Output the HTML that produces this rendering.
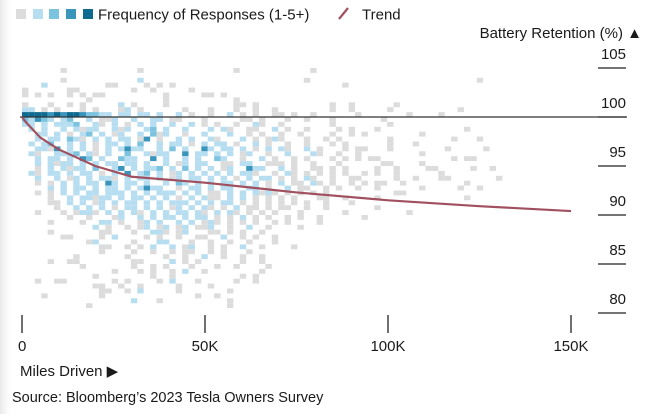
<!DOCTYPE html>
<html><head><meta charset="utf-8"><style>
html,body{margin:0;padding:0;background:#fff;}
body{width:660px;height:414px;overflow:hidden;font-family:"Liberation Sans",sans-serif;}
svg text{font-family:"Liberation Sans",sans-serif;fill:#1a1a1a;}
</style></head><body>
<svg id="chart" width="660" height="414" viewBox="0 0 660 414">
<defs><linearGradient id="edge" x1="0" x2="1"><stop offset="0" stop-color="#e8e8e8"/><stop offset="1" stop-color="#fff" stop-opacity="0"/></linearGradient></defs>
<rect x="0" y="0" width="14" height="414" fill="url(#edge)"/>
<g>
<rect x="16" y="9" width="10" height="10" fill="#dcdcdc"/>
<rect x="33" y="9" width="10" height="10" fill="#b7def0"/>
<rect x="49" y="9" width="10" height="10" fill="#7cc3e0"/>
<rect x="66" y="9" width="10" height="10" fill="#3a95bd"/>
<rect x="83" y="9" width="10" height="10" fill="#0e6a8f"/>
<text x="98" y="19.5" font-size="15">Frequency of Responses (1-5+)</text>
<line x1="339" y1="19" x2="348" y2="8" stroke="#a0505f" stroke-width="2.2"/>
<text x="362" y="19.5" font-size="15">Trend</text>
</g>
<text x="642" y="38" font-size="15" text-anchor="end">Battery Retention (%) ▲</text>
<g id="cells"></g>
<g id="yaxis"></g>
<g id="xaxis"></g>
<line x1="20" y1="117" x2="627" y2="117" stroke="#333" stroke-width="1.3"/>
<path id="trend" fill="none" stroke="#a0505f" stroke-width="2.2"/>
<text x="20" y="376" font-size="15">Miles Driven ▶</text>
<text x="12" y="402" font-size="14.5">Source: Bloomberg’s 2023 Tesla Owners Survey</text>
</svg>
<script>
const binK = 1.75;
const topRetention = 105.0;
const rowStep = 0.5;
const rows = [
"......g...........g..............g...........g",
"......................................................",
"......g...........a.........................g..........................g",
"...a.........gg....g.g.g..........................g",
"g......gg........g..g.....g..........................................",
"g.g.g..g.g.gg.........g.....gg.g......................",
"..........g...........g..........g....................",
"g...g..g.g.....a.g....g..........gg.g...........g..g......g",
"aa.g.g...g.g...ga.g......g...g...g..g..g........g..g.....g..........g",
"ddddcdcddcbbaa.aa.aa.a..a.g..g..a.g.g..gg.g..g......g.......g....g....",
"bacba.ab..a.gga..a..aa.gg...g.....gg.g...g..g...g.......g.......",
"aa.a.aaab..ag.a.g.a.a..a..a.g.g..g..ag..g.......g........g......",
".a.a..a.agaa..aga..ab.a..a...a.ag..gg..a.g..g....g.g...g.............g",
"..aa.a.g.ab.a.ga..a.bga..g..a...a..g.g..g..g....g..g.g........g...",
"..a.aa.bag.a.a.aa.gc.g..a.a..ag...a.g.gag...g..g.g.......g.........g...g",
".a.ab..a.a.g.aa.a.b..a.aa.g.a.aa.g..a.g..g..g...g.g......g...g.......",
"..aagc.a.a.g.a.acaa..a.b.a..ca.aa.a.g.a.ag..a.g...g.gg...g........g.....g",
".ag..aaab.ag.a..b..agaa..c.aa.a.a.ga..g..a...ag..g..g.........g......",
"..a.aa.a.cb.a..baa..c.a..a.a..ba..g..a.g..g.g...g.g.g.gg...........g.gg",
"..a.agaa.a.a.aa.aa.a..a.ga.aa..gg.aa..ggg.g..g...g......gg....g..",
"..g.a.agaa.b..ac.a.aab.a.b.a.a.ga..caa..a.g..gg.g.g....g..g....gg.....g..g",
".ag.aa.a.aa.g.a.c.ab.a.ga.a.a.a.a.aag..g.ag.g.g.g.g..g.g..g......g",
"..a..a.ga.a.aag.a.aa.a.ga.aa.a.a.g.a.aa.g.g.ag..g..gg.....g..g...gg.......g",
"..g.g.a.a.aa.ca.aa.a..a.ba.a.a.aa.a.a.g.a.gg.ag.g..g.g.gg..g.........g",
"....a.a.aa.a.aa.a.acaa..g.aa.a.aa..aa.g..a.gg..g.g..g..g......g.....g..g",
"..g.g.a.a.aa.aaa.a.a.aaa.a.a.gg.a.a.agag.g.g.g.g..........gg",
"....g..a.aagaa.a.aa.a.a.g.a.agg.a.a.g.g.g.g...gg..g....g.............g",
"....gg.a.a.ga.a.aa.a.a.aaa.a.a.aa.g.g.g.g.g.g..g...g........",
".....g..a.a.a.g.aa.a.a.ga.a.ag.g.a.gg.g.gg..g..g.......g",
"..g...g.gaag.a.a.ag.a.a.aa.ag.a.ag.g.g.g...g......g.........g",
".......g..g...ga..a.a.aa.a.aa.g.g.a.g.g..g.g..g......g",
"....g....g..aa.g..ga.a..a.a.gag.g.g.g..g.g....g",
"...........a.g..g.ga.ga.ga.gga..g..a..g....g",
"....g.......gg...g..aag.ga...gg.g.g..g........",
"......gg....g.a....g.g..g..gg..a..g.g..g",
"..........ga.....g...aa...g..g..g..g...g",
"............gg..g.g.a..a.ga..g.g..a..g....g",
"............g....g..g..g.gg..g.g...g.....",
"........g.......g.....g..g..a..g..g..g",
"....g..gg........gg....a.g.g......g..g",
".........g.......g..g.g...g...g..g....g",
"..............g...g.g..g.a..g........g",
"...........g........g..g..........g.g",
"..g..gg.......g.g....g.a...g.....g..g",
"...........gg..g..g.....g....g......",
"............gg..g.a.....g.......g",
"...g........g..............g..g",
".................a...g..........g",
"..........g.....................g"
];
const colorKey = ['g','a','b','c','d'];
const colorVals = ['#dcdcdc','#b7def0','#7cc3e0','#3a95bd','#0e6a8f'];
const yTicks = [105,100,95,90,85,80];
const xTicks = [0,50,100,150];
const xTickLabels = ['0','50K','100K','150K'];
const trendMiles = [0,1,2,5,10,20,30,50,75,100,125,150];
const trendValues = [100,99.5,99.1,97.9,96.7,95.0,93.9,93.3,92.3,91.5,90.9,90.4];

const NS='http://www.w3.org/2000/svg';
function xScale(k){return 22 + k*3.66;}
function yScale(v){return 117 - (v-100)*9.8;}
function mk(tag,attrs,parent){const e=document.createElementNS(NS,tag);for(const k in attrs)e.setAttribute(k,attrs[k]);parent.appendChild(e);return e;}

const cellsG=document.getElementById('cells');
rows.forEach((row,ri)=>{
  for(let ci=0;ci<row.length;ci++){
    const idx=colorKey.indexOf(row[ci]);
    if(idx<0)continue;
    const x0=xScale(ci*binK), x1=xScale((ci+1)*binK);
    const vTop=topRetention-ri*rowStep, vBot=vTop-rowStep;
    const r=mk('rect',{x:x0.toFixed(2),y:yScale(vTop).toFixed(2),width:(x1-x0).toFixed(2),height:(yScale(vBot)-yScale(vTop)).toFixed(2),fill:colorVals[idx]},cellsG);
    
    
  }
});

const yG=document.getElementById('yaxis');
yTicks.forEach(v=>{
  const y=yScale(v);
  const t=mk('text',{x:626,y:(y-9).toFixed(1),'font-size':15,'text-anchor':'end'},yG);
  t.textContent=String(v);
  
  
  const l=mk('line',{x1:598,x2:626,y1:y,y2:y,stroke:'#222','stroke-width':1.2},yG);
  
  
});

const xG=document.getElementById('xaxis');
xTicks.forEach((k,i)=>{
  const x=xScale(k);
  const l=mk('line',{x1:x,x2:x,y1:315,y2:333,stroke:'#222','stroke-width':1.3},xG);
  
  
  const t=mk('text',{x:k===0?x-4:x,y:351,'font-size':15,'text-anchor':k===0?'start':'middle'},xG);
  t.textContent=xTickLabels[i];
  
  
});

let d='';
trendMiles.forEach((k,i)=>{d+=(i?' L':'M')+xScale(k).toFixed(2)+' '+yScale(trendValues[i]).toFixed(2);});
document.getElementById('trend').setAttribute('d',d);
</script>
</body></html>
